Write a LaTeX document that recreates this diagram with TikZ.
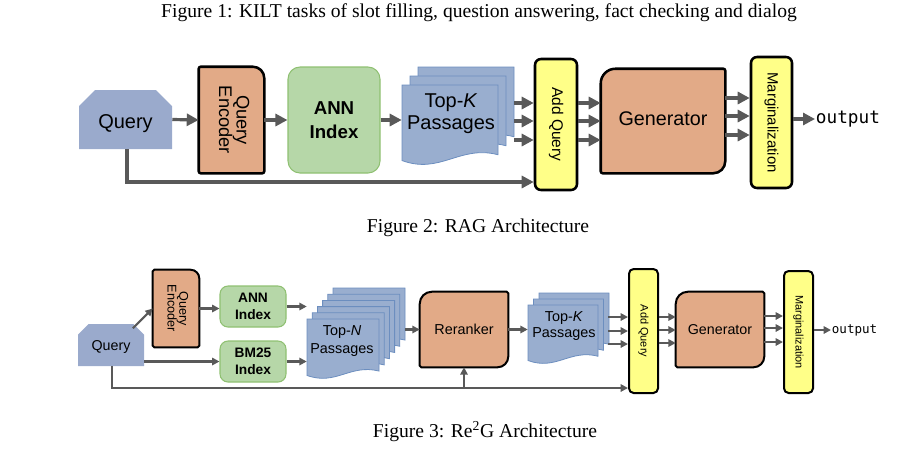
\documentclass[tikz,border=0pt]{standalone}
\usepackage{fontspec}
\setmainfont{Liberation Serif}
\setsansfont{Liberation Sans}
\setmonofont{DejaVu Sans Mono}
\usetikzlibrary{arrows.meta,shapes.misc,backgrounds,calc,fit}
\definecolor{qblue}{HTML}{9AAACC}
\definecolor{docblue}{HTML}{99AECF}
\definecolor{docborder}{HTML}{6C8EBF}
\definecolor{salmon}{HTML}{E2AA87}
\definecolor{annfill}{HTML}{B6D7A8}
\definecolor{annborder}{HTML}{8FC072}
\definecolor{ybox}{HTML}{FFFF88}
\definecolor{agray}{HTML}{595959}
\newcommand\cornerbox[6]{%
 \draw[#1] ($(#2.north west)+(0pt,-#3pt)$) arc[start angle=180,end angle=90,radius=#3pt]
  -- ($(#2.north east)+(-#4pt,0pt)$) arc[start angle=90,end angle=0,radius=#4pt]
  -- ($(#2.south east)+(0pt,#5pt)$) arc[start angle=0,end angle=-90,radius=#5pt]
  -- ($(#2.south west)+(#6pt,0pt)$) arc[start angle=270,end angle=180,radius=#6pt]
  -- cycle;}
\newcommand\docpage[4]{%
 \draw[docst] ({#1},{-(#2)}) -- ({#1+#3},{-(#2)}) -- ({#1+#3},{-(#2+0.84*#4)})
   .. controls ({#1+0.6*#3},{-(#2+0.72*#4)}) and ({#1+0.4*#3},{-(#2+1.08*#4)})
   .. ({#1},{-(#2+0.91*#4)}) -- cycle;}
\begin{document}
\begin{tikzpicture}[x=0.75pt,y=0.75pt,
  sz/.style 2 args={minimum width=#1*0.75pt, minimum height=#2*0.75pt, inner sep=0pt},
  sftxt/.style={font=\sffamily\fontsize{#1}{#1}\selectfont},
  qshape/.style={chamfered rectangle, chamfered rectangle corners={north west,north east}, fill=qblue},
  annbox/.style={rectangle, fill=annfill, draw=annborder, line width=0.8pt, align=center},
  ybig/.style={rectangle, rounded corners=4.5pt, fill=ybox, draw=black, line width=1.9pt},
  ysmall/.style={rectangle, rounded corners=3.5pt, fill=ybox, draw=black, line width=1.5pt},
  salbig/.style={fill=salmon, draw=black, line width=1.9pt},
  salsmall/.style={fill=salmon, draw=black, line width=1.5pt},
  docst/.style={fill=docblue, draw=docborder, line width=0.6pt},
  arrA/.style={draw=agray, line width=2.4pt, -{Triangle[length=9pt,width=9pt]}},
  arrB/.style={draw=agray, line width=1.6pt, -{Triangle[length=5.5pt,width=5.5pt]}},
  captxt/.style={font=\rmfamily\fontsize{14.7}{17}\selectfont}]
\useasboundingbox (0,0) rectangle (924,-451);

% captions
\node[captxt] (cap1) at (479,-13) {Figure 1: KILT tasks of slot filling, question answering, fact checking and dialog};
\node[captxt] (cap2) at (478,-228) {Figure 2: RAG Architecture};
\node[captxt] (cap3) at (485,-432) {Figure 3: Re\textsuperscript{2}G Architecture};

% ================= Figure 2 (RAG) =================
\node[qshape, sz={93}{59}, chamfered rectangle xsep=6pt, chamfered rectangle ysep=6pt, sftxt=15] (q1) at (125.5,-119.5) {\raisebox{-3pt}[\height][\depth]{Query}};
\node[sz={65}{106}, sftxt=13.7] (enc1) at (231.5,-120)
  {\rotatebox{-90}{\begin{tabular}{@{}c@{}}Query\\[-1pt]Encoder\end{tabular}}};
\node[annbox, sz={92}{106}, rounded corners=9pt, font=\sffamily\bfseries\fontsize{14}{18}\selectfont] (ann1) at (334,-120) {ANN\\Index};
\foreach \i in {2,1,0} {\docpage{402+8*\i}{85-9*\i}{96}{83}}
\node[fit={(402,-67) (514,-168)}, inner sep=0pt] (topk1) {};
\node[align=center, font=\sffamily\fontsize{15}{16.5}\selectfont] (topk1t) at (451,-114) {Top-\textit{K}\\Passages};
\node[ybig, sz={42}{131}, sftxt=11.6] (addq1) at (556,-124.5) {\rotatebox{-90}{Add Query}};
\node[sz={124}{104}, sftxt=14.8] (gen1) at (663,-121) {\raisebox{2pt}[\height][\depth]{Generator}};
\node[ybig, sz={41}{131}, sftxt=11.2] (marg1) at (771.5,-122.5) {\rotatebox{-90}{Marginalization}};
\node[anchor=west, inner sep=0.5pt, font=\ttfamily\fontsize{13.3}{14}\selectfont] (out1) at (815,-119) {output};
\begin{pgfonlayer}{background}
\cornerbox{salbig}{enc1}{1.5}{8.5}{1.5}{1.5}
\cornerbox{salbig}{gen1}{11}{1.5}{9}{1.5}
\end{pgfonlayer}

\draw[arrA] (q1.east) -- (enc1.west);
\draw[arrA] (enc1.east) -- (ann1.west);
\draw[arrA] (ann1.east) -- (ann1.east -| topk1.west);
\foreach \yy in {103,121,140} {\draw[arrA] (topk1.east |- 0,-\yy) -- (addq1.west |- 0,-\yy);}
\foreach \yy in {103,121,140} {\draw[arrA] (addq1.east |- 0,-\yy) -- (gen1.west |- 0,-\yy);}
\foreach \yy in {98,116,135} {\draw[arrA] (gen1.east |- 0,-\yy) -- (marg1.west |- 0,-\yy);}
\draw[arrA] (marg1.east |- out1.west) -- (out1.west);
\coordinate (b1) at (127,-182);
\draw[arrA] (q1.south -| b1) -- (b1) -- (b1 -| addq1.west);

% ================= Figure 3 (Re2G) =================
\node[qshape, sz={66}{42}, chamfered rectangle xsep=4pt, chamfered rectangle ysep=4pt, sftxt=10.7] (q2) at (111,-345) {\raisebox{-1.5pt}[\height][\depth]{Query}};
\node[sz={46}{77}, sftxt=9.5] (enc2) at (176,-308.5)
  {\rotatebox{-90}{\begin{tabular}{@{}c@{}}Query\\[-1pt]Encoder\end{tabular}}};
\node[annbox, sz={66}{41}, rounded corners=6pt, font=\sffamily\bfseries\fontsize{10.3}{12.7}\selectfont] (ann2) at (253,-306.5) {ANN\\Index};
\node[annbox, sz={66}{41}, rounded corners=6pt, font=\sffamily\bfseries\fontsize{10.3}{12.7}\selectfont] (bm25) at (253,-361.5) {BM25\\Index};
\foreach \i in {5,4,3,2,1,0} {\docpage{307+5.2*\i}{319-6.2*\i}{72}{62}}
\node[fit={(307,-288) (405,-381)}, inner sep=0pt] (topN) {};
\node[align=center, font=\sffamily\fontsize{10.8}{13.5}\selectfont] (topNt) at (342,-341) {Top-\textit{N}\\Passages};
\node[sz={88}{75}, sftxt=10.8] (rer) at (464,-329.5) {Reranker};
\foreach \i in {2,1,0} {\docpage{528+5.5*\i}{305-6*\i}{70}{61}}
\node[fit={(528,-293) (608,-366)}, inner sep=0pt] (topk2) {};
\node[align=center, font=\sffamily\fontsize{10.8}{12.5}\selectfont] (topk2t) at (564,-326) {Top-\textit{K}\\Passages};
\node[ysmall, sz={29}{124}, sftxt=8.2] (addq2) at (643.5,-331) {\rotatebox{-90}{Add Query}};
\node[sz={88}{75}, sftxt=10.7] (gen2) at (720,-329.5) {Generator};
\node[ysmall, sz={29}{122}, sftxt=8.2] (marg2) at (798.5,-332) {\rotatebox{-90}{Marginalization}};
\node[anchor=west, inner sep=0.5pt, font=\ttfamily\fontsize{9.4}{10}\selectfont] (out2) at (831,-330) {output};
\begin{pgfonlayer}{background}
\cornerbox{salsmall}{enc2}{1.2}{6.5}{1.2}{1.2}
\cornerbox{salsmall}{rer}{9}{1.2}{8}{1.2}
\cornerbox{salsmall}{gen2}{9}{1.2}{8}{1.2}
\end{pgfonlayer}

\draw[arrB] ($(q2.north east)+(-6,1)$) -- (enc2.west);
\draw[arrB] (enc2.east) -- (enc2.east -| ann2.west);
\draw[arrB] (q2.east |- bm25.west) -- (bm25.west);
\draw[arrB] (ann2.east) -- (ann2.east -| topN.west);
\draw[arrB] (bm25.east) -- (bm25.east -| topN.west);
\draw[arrB] (topN.east |- rer.west) -- (rer.west);
\draw[arrB] (rer.east) -- (rer.east -| topk2.west);
\foreach \yy in {317,331,344} {\draw[arrB] (topk2.east |- 0,-\yy) -- (addq2.west |- 0,-\yy);}
\foreach \yy in {317,330,343} {\draw[arrB] (addq2.east |- 0,-\yy) -- (gen2.west |- 0,-\yy);}
\foreach \yy in {316,328,342} {\draw[arrB] (gen2.east |- 0,-\yy) -- (marg2.west |- 0,-\yy);}
\draw[arrB] (marg2.east |- out2.west) -- (out2.west);
\coordinate (b2) at (112,-388);
\draw[arrB] (q2.south -| b2) -- (b2) -- (b2 -| addq2.west);
\draw[arrB] (b2 -| rer.south) -- (rer.south);
\end{tikzpicture}
\end{document}
